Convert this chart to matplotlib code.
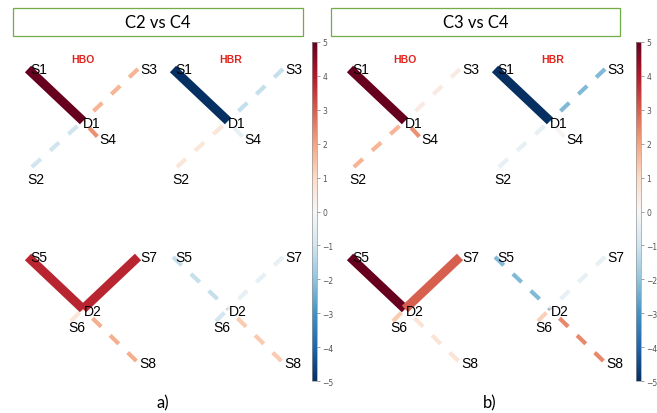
import matplotlib
matplotlib.use("Agg")
import matplotlib.pyplot as plt
from matplotlib.patches import Rectangle
from matplotlib.colors import Normalize
from matplotlib.cm import ScalarMappable

# channel t-values (source-detector pairs)
channels = ["S1-D1", "S2-D1", "S3-D1", "S4-D1", "S5-D2", "S6-D2", "S7-D2", "S8-D2"]
a_hbo = [5.0, -1.0, 1.7, 2.3, 3.8, 0.6, 3.8, 1.8]
a_hbr = [-5.0, 0.6, -1.2, -0.4, -1.2, -0.9, -0.4, 1.3]
b_hbo = [5.0, 1.7, 0.4, 2.3, 5.0, 1.3, 3.0, 0.7]
b_hbr = [-5.0, -0.4, -2.2, 0.1, -2.2, 1.2, -0.4, 2.4]
# significant channels are drawn thick and solid
a_hbo_sig = [1, 0, 0, 0, 1, 0, 1, 0]
a_hbr_sig = [1, 0, 0, 0, 0, 0, 0, 0]
b_hbo_sig = [1, 0, 0, 0, 1, 0, 1, 0]
b_hbr_sig = [1, 0, 0, 0, 0, 0, 0, 0]

titles = ["C2 vs C4", "C3 vs C4"]
panel_labels = ["a)", "b)"]
chromophores = ["HBO", "HBR"]
cbar_ticks = list(range(-5, 6))

# probe layout (arm units)
node_xy = {
    "D1": (0, 0), "S1": (-1, 1), "S2": (-0.93, -0.885), "S3": (1, 1), "S4": (0.26, -0.3),
    "D2": (0, -3.615), "S5": (-1, -2.615), "S6": (-0.22, -3.85), "S7": (1, -2.615), "S8": (0.97, -4.615),
}
label_off = {
    "S1": (1.5, 0), "S3": (1.5, 0), "D1": (0, -1.5), "S4": (1.5, -1.5), "S2": (-3, -8.5),
    "S5": (1.5, 0), "S7": (1.5, 0), "D2": (0.7, -1.5), "S6": (-1.5, -4.3), "S8": (2, -1.5),
}

W, H = 657, 414
fig = plt.figure(figsize=(W / 100, H / 100), dpi=100)
cmap = plt.get_cmap("RdBu_r")
norm = Normalize(-5, 5)


def px_rect(x0, y0, x1, y1):
    return [x0 / W, 1 - y1 / H, (x1 - x0) / W, (y1 - y0) / H]


def draw_column(cx, vals, sig, name, name_dx):
    ax = fig.add_axes(px_rect(cx - 72, 40, cx + 72, 390))
    ax.set_xlim(-72 / 55, 72 / 55)
    ax.set_ylim(-(390 - 122) / 52, (122 - 40) / 52)
    ax.axis("off")
    ax.patch.set_alpha(0)
    for ch, v, s in zip(channels, vals, sig):
        src, det = ch.split("-")
        xs = [node_xy[src][0], node_xy[det][0]]
        ys = [node_xy[src][1], node_xy[det][1]]
        if s:
            ax.plot(xs, ys, color=cmap(norm(v)), lw=6.5, solid_capstyle="butt", zorder=3)
        else:
            ax.plot(xs, ys, color=cmap(norm(v)), lw=3.0, linestyle=(0, (2.9, 3.0)),
                    dash_capstyle="butt", zorder=2)
    for n, (x, y) in node_xy.items():
        ax.annotate(n, xy=(x, y), xytext=label_off[n], textcoords="offset points",
                    ha="left", va="center", fontsize=10, family="Liberation Sans", zorder=5)
    ax.text(name_dx, 1.19, name, color="#e0231c", fontsize=7.5, fontweight="bold",
            family="Liberation Sans", ha="center", va="center")


panels = [
    (83, 228, a_hbo, a_hbo_sig, a_hbr, a_hbr_sig, (13, 303), (312, 317), 163),
    (405, 550, b_hbo, b_hbo_sig, b_hbr, b_hbr_sig, (331, 620), (636, 641), 490),
]

for i, (c1, c2, hbo, hbo_s, hbr, hbr_s, box, cb, lx) in enumerate(panels):
    draw_column(c1, hbo, hbo_s, chromophores[0], 0.0)
    draw_column(c2, hbr, hbr_s, chromophores[1], 0.05)

    # title box
    fig.patches.append(Rectangle((box[0] / W, 1 - 37 / H), (box[1] - box[0]) / W, 28 / H,
                                 transform=fig.transFigure, fill=False,
                                 edgecolor="#70ad47", lw=0.9))
    fig.text((box[0] + box[1]) / 2 / W, 1 - 23 / H, titles[i], ha="center", va="center",
             fontsize=12, family="Lato")

    # colorbar
    cax = fig.add_axes(px_rect(cb[0], 43, cb[1], 382))
    cbar = fig.colorbar(ScalarMappable(norm=norm, cmap=cmap), cax=cax, ticks=cbar_ticks)
    cbar.outline.set_edgecolor("#999999")
    cbar.outline.set_linewidth(0.5)
    cax.tick_params(labelsize=5.5, labelcolor="#555555", color="#777777",
                    length=2, width=0.5, pad=2)

    fig.text(lx / W, 1 - 403 / H, panel_labels[i], ha="center", va="center",
             fontsize=12, family="Lato")

fig.savefig("out.png", dpi=100)
